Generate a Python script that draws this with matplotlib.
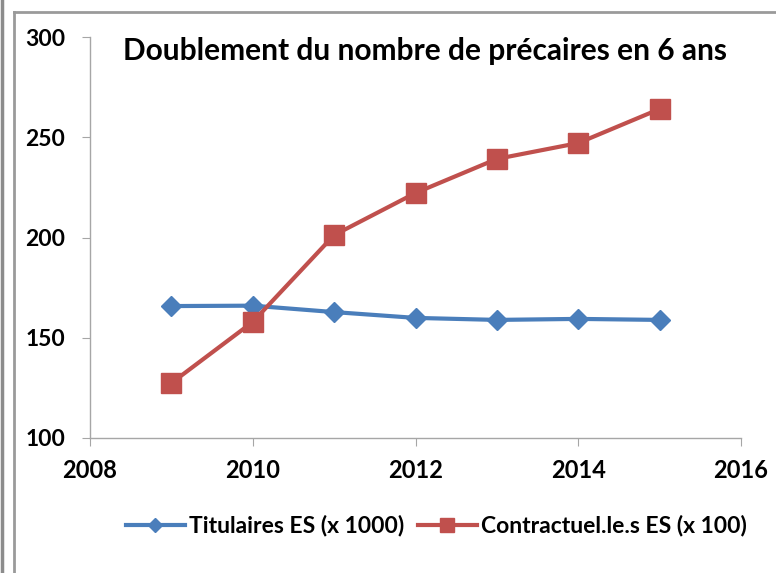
import matplotlib.pyplot as plt
from matplotlib.lines import Line2D

years = [2009, 2010, 2011, 2012, 2013, 2014, 2015]
titulaires = [165.8, 166.0, 162.8, 159.9, 158.9, 159.4, 158.9]
contractuels = [127.4, 157.9, 201.2, 222.2, 239.2, 247.1, 264.1]

x_ticks = [2008, 2010, 2012, 2014, 2016]
y_ticks = [100, 150, 200, 250, 300]

plt.rcParams['font.family'] = ['Lato', 'DejaVu Sans']
plt.rcParams['font.weight'] = 'bold'

W, H = 776, 573
fig = plt.figure(figsize=(W / 100, H / 100), dpi=100)

# outer frame lines (Excel chart area border)
fig.add_artist(Line2D([1.5 / W, 1.5 / W], [0, 1], color='#8c8c8c', lw=2.5))
fig.add_artist(Line2D([14 / W, 14 / W], [0, 1 - 12 / H], color='#9a9a9a', lw=2))
fig.add_artist(Line2D([14 / W, 1], [1 - 12 / H, 1 - 12 / H], color='#9a9a9a', lw=2))

ax = fig.add_axes([90 / W, 1 - 438 / H, (741 - 90) / W, (438 - 37) / H])

blue = '#4a7ebb'
red = '#c0504d'

ax.plot(years, titulaires, color=blue, lw=3, marker='D', ms=10,
        label='Titulaires ES (x 1000)', zorder=3)
ax.plot(years, contractuels, color=red, lw=3, marker='s', ms=14,
        label='Contractuel.le.s ES (x 100)', zorder=3)

ax.set_xlim(2008, 2016)
ax.set_ylim(100, 300)
ax.set_xticks(x_ticks)
ax.set_yticks(y_ticks)

for s in ['top', 'right']:
    ax.spines[s].set_visible(False)
for s in ['left', 'bottom']:
    ax.spines[s].set_color('#a6a6a6')
    ax.spines[s].set_linewidth(1)

ax.tick_params(axis='x', direction='out', length=6, color='#a6a6a6',
               labelsize=17, pad=9)
ax.tick_params(axis='y', direction='out', length=6, color='#a6a6a6',
               labelsize=16.5, pad=12)

ax.set_title('Doublement du nombre de précaires en 6 ans', fontsize=21.5,
             fontweight='bold', x=0.515, y=0.978, va='top')

fig.legend(loc='center', bbox_to_anchor=(436 / W, 1 - 526 / H), ncol=2,
           frameon=False, fontsize=16.5, handlelength=2.6, columnspacing=0.6,
           handletextpad=0.15, markerscale=0.75)

fig.savefig('out.png', dpi=100)
